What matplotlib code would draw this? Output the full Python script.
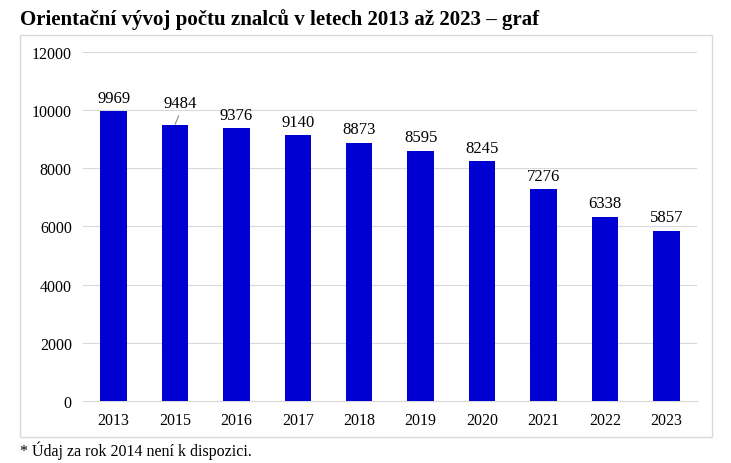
import matplotlib.pyplot as plt
from matplotlib.patches import Rectangle

years = ["2013", "2015", "2016", "2017", "2018", "2019", "2020", "2021", "2022", "2023"]
counts = [9969, 9484, 9376, 9140, 8873, 8595, 8245, 7276, 6338, 5857]
yticks = [0, 2000, 4000, 6000, 8000, 10000, 12000]

plt.rcParams['font.family'] = ['Liberation Serif', 'DejaVu Serif']

fig = plt.figure(figsize=(7.31, 4.64), dpi=100)
ax = fig.add_axes([0.1135, 0.1336, 0.84, 0.7522])

# frame around the chart area
fig.patches.append(Rectangle((20 / 731, 1 - 438 / 464), 692 / 731, 402 / 464,
                             transform=fig.transFigure, fill=False,
                             edgecolor="#d9d9d9", linewidth=1))

x = range(len(years))
bars = ax.bar(x, counts, width=0.43, color="#0000d2", zorder=3)

for i, (b, v) in enumerate(zip(bars, counts)):
    off = 4 if i != 1 else 10
    dx = 0 if i != 1 else 4
    ax.annotate(str(v), (b.get_x() + b.get_width() / 2, v), xytext=(dx, off),
                textcoords="offset points", ha="center", va="bottom", fontsize=12)
# leader line for 9484
ax.annotate("", (x[1], counts[1] + 30), xytext=(x[1] + 0.06, counts[1] + 330),
            arrowprops=dict(arrowstyle="-", color="#8c8c8c", lw=0.8,
                            shrinkA=0, shrinkB=0))

ax.set_ylim(0, 12000)
ax.set_xlim(-0.5, len(years) - 0.5)
ax.set_yticks(yticks)
ax.set_xticks(list(x))
ax.set_xticklabels(years)
ax.tick_params(axis="both", length=0, labelsize=11.5, pad=8)
ax.grid(axis="y", color="#d9d9d9", linewidth=0.8, zorder=0)
for s in ["top", "right", "left"]:
    ax.spines[s].set_visible(False)
ax.spines["bottom"].set_color("#d9d9d9")

fig.text(20 / 731, 1 - 20 / 464, "Orientační vývoj počtu znalců v letech 2013 až 2023 – graf",
         fontsize=15, fontweight="bold", ha="left", va="center")
fig.text(20 / 731, 1 - 451 / 464, "* Údaj za rok 2014 není k dispozici.",
         fontsize=11.5, ha="left", va="center")

plt.savefig("out.png", dpi=100)
